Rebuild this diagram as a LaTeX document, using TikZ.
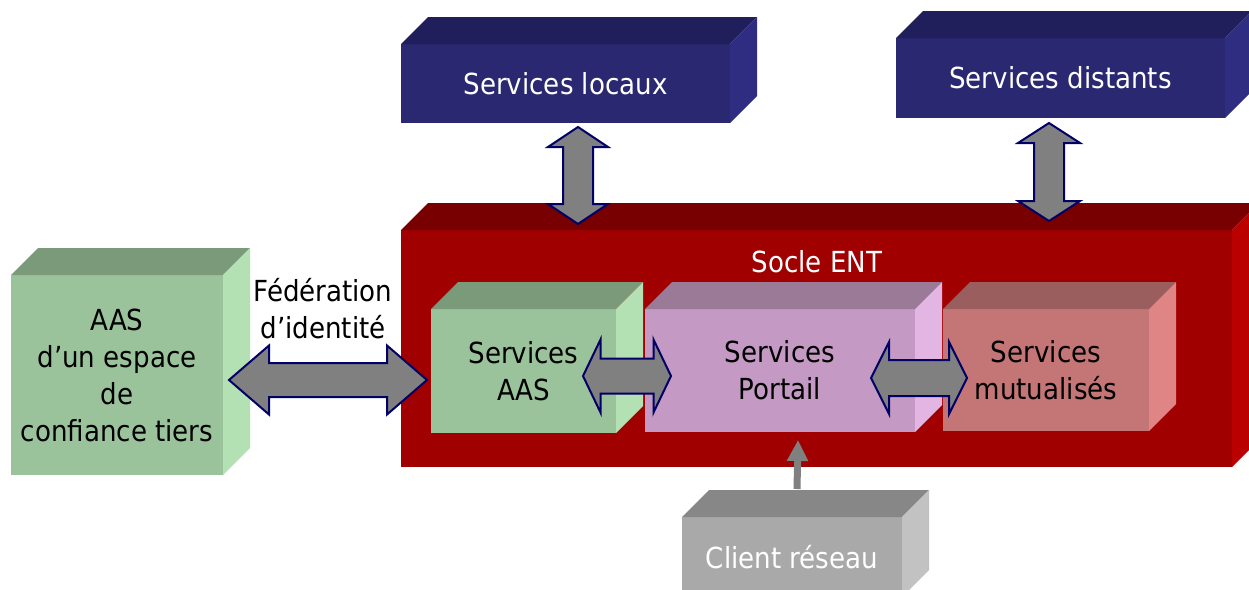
\documentclass[tikz,border=0pt]{standalone}
\usepackage{fontspec}
\usetikzlibrary{calc,arrows.meta}
\newfontfamily\labelfont[FakeStretch=0.9]{DejaVu Sans}

% face colours of the boxes
\definecolor{bluefront}{HTML}{292870}
\definecolor{bluetop}{HTML}{201F5C}
\definecolor{blueside}{HTML}{2E2D82}
\definecolor{redfront}{HTML}{A00000}
\definecolor{redtop}{HTML}{780000}
\definecolor{redside}{HTML}{BA0000}
\definecolor{greenfront}{HTML}{9BC39B}
\definecolor{greentop}{HTML}{7A9A7A}
\definecolor{greenside}{HTML}{B3E1B3}
\definecolor{pinkfront}{HTML}{C49AC4}
\definecolor{pinktop}{HTML}{9A7A96}
\definecolor{pinkside}{HTML}{E2B5E2}
\definecolor{mutfront}{HTML}{C47575}
\definecolor{muttop}{HTML}{9A5E5E}
\definecolor{mutside}{HTML}{E08585}
\definecolor{greyfront}{HTML}{A9A9A9}
\definecolor{greytop}{HTML}{878787}
\definecolor{greyside}{HTML}{C2C2C2}
\definecolor{arrowgrey}{HTML}{808080}
\definecolor{arrownavy}{HTML}{000066}

% top and right faces of a box whose front face is node #1
\newcommand\cubefaces[4]{%
  \fill[#3] (#1.north west) -- ++(#2,-#2) -- ($(#1.north east)+(#2pt,#2pt)$) -- (#1.north east) -- cycle;
  \fill[#4] (#1.north east) -- ++(#2,-#2) -- ($(#1.south east)+(#2pt,#2pt)$) -- (#1.south east) -- cycle;}

% horizontal double block arrow: left tip, right tip, head length, head half-width, shaft half-width
\newcommand\dblarrowH[5]{%
  \filldraw[blockarrow] let \p1=(#1), \p2=(#2) in
    (\p1) -- (\x1+#3,\y1+#4) -- (\x1+#3,\y1+#5) -- (\x2-#3,\y1+#5) -- (\x2-#3,\y1+#4)
    -- (\x2,\y1) -- (\x2-#3,\y1-#4) -- (\x2-#3,\y1-#5) -- (\x1+#3,\y1-#5) -- (\x1+#3,\y1-#4) -- cycle;}

% vertical double block arrow: top tip, bottom tip, head length, head half-width, shaft half-width
\newcommand\dblarrowV[5]{%
  \filldraw[blockarrow] let \p1=(#1), \p2=(#2) in
    (\p1) -- (\x1+#4,\y1-#3) -- (\x1+#5,\y1-#3) -- (\x1+#5,\y2+#3) -- (\x1+#4,\y2+#3)
    -- (\x1,\y2) -- (\x1-#4,\y2+#3) -- (\x1-#5,\y2+#3) -- (\x1-#5,\y1-#3) -- (\x1-#4,\y1-#3) -- cycle;}

\begin{document}
\begin{tikzpicture}[x=1pt,y=-1pt,
  face/.style={rectangle,inner sep=0pt,outer sep=0pt,anchor=north west,align=center,
    font=\labelfont\fontsize{29}{37}\selectfont},
  caption/.style={inner sep=0pt,align=center,font=\labelfont\fontsize{29}{37}\selectfont},
  blockarrow/.style={fill=arrowgrey,draw=arrownavy,line width=2pt,line join=miter},
  clientarrow/.style={draw=arrowgrey,line width=7pt,-{Triangle[length=21pt,width=20pt]}}]
\useasboundingbox (0,0) rectangle (1249,589);
\clip (0,0) rectangle (1249,589);

% upper service boxes
\node[face,fill=bluefront,text=white,minimum width=329pt,minimum height=79pt] (locaux) at (401,44) {Services locaux};
\cubefaces{locaux}{27}{bluetop}{blueside}
\node[face,fill=bluefront,text=white,minimum width=329pt,minimum height=80pt] (distants) at (896,38) {Services distants};
\cubefaces{distants}{27}{bluetop}{blueside}

% ENT platform
\node[face,fill=redfront,minimum width=831pt,minimum height=237pt] (socle) at (401,230) {};
\cubefaces{socle}{27}{redtop}{redside}
\node[caption,text=white] (soclelabel) at (817,262) {Socle ENT};

% third-party identity provider
\node[face,fill=greenfront,minimum width=212pt,minimum height=200pt] (tiers) at (11,275)
  {AAS\\d’un espace\\de\\confiance tiers};
\cubefaces{tiers}{27}{greentop}{greenside}
\node[caption] (federation) at (323,309) {Fédération\\d’identité};

% inner services of the platform
\node[face,fill=greenfront,minimum width=185pt,minimum height=124pt] (aas) at (431,309) {Services\\AAS};
\cubefaces{aas}{27}{greentop}{greenside}
\node[face,fill=pinkfront,minimum width=270pt,minimum height=123pt] (portail) at (645,309) {Services\\Portail};
\cubefaces{portail}{27}{pinktop}{pinkside}
\node[face,fill=mutfront,minimum width=206pt,minimum height=122pt] (mutu) at (943,309) {Services\\mutualisés};
\cubefaces{mutu}{27}{muttop}{mutside}

% network client
\node[face,fill=greyfront,text=white,minimum width=220pt,minimum height=80pt] (client) at (682,517) {Client réseau};
\cubefaces{client}{27}{greytop}{greyside}

% arrow end points
\coordinate (locauxTip) at (578,127);
\coordinate (locauxEnd) at (578,224);
\coordinate (distantsTip) at (1049,123);
\coordinate (distantsEnd) at (1049,221);
\coordinate (fedL) at (229,380);
\coordinate (fedR) at (427,380);
\coordinate (aasL) at (583,376);
\coordinate (aasR) at (671,376);
\coordinate (mutuL) at (871,378);
\coordinate (mutuR) at (967,378);
\coordinate (clientFoot) at (797,489);
\coordinate (clientHead) at (798,440);

\dblarrowV{locauxTip}{locauxEnd}{20pt}{30pt}{15pt}
\dblarrowV{distantsTip}{distantsEnd}{20pt}{31pt}{15pt}
\dblarrowH{fedL}{fedR}{40pt}{34.5pt}{17pt}
\dblarrowH{aasL}{aasR}{17.5pt}{36.5pt}{17.5pt}
\dblarrowH{mutuL}{mutuR}{18pt}{36pt}{18pt}
\draw[clientarrow] (clientFoot) -- (clientHead);
\end{tikzpicture}
\end{document}
